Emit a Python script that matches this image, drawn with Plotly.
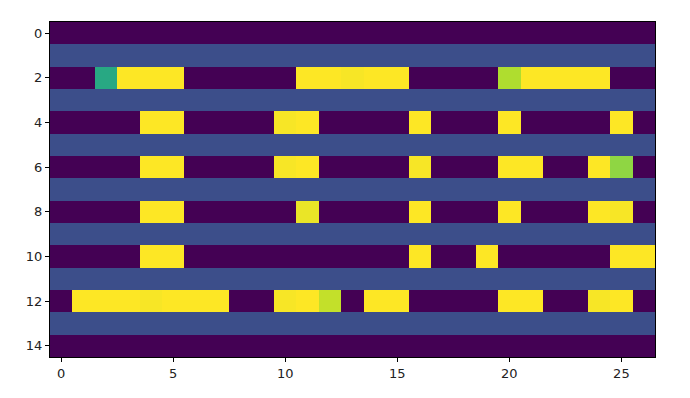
import plotly.graph_objects as go

x_cols = list(range(27))
y_rows = list(range(15))
x_ticks = [0, 5, 10, 15, 20, 25]
y_ticks = [0, 2, 4, 6, 8, 10, 12, 14]

B = 0.24  # blue separator rows
row0 = [0]*27
row2 = [0,0,0.6,1,1,1,0,0,0,0,0,1,1,0.99,1,1,0,0,0,0,0.88,1,1,1,1,0,0]
row4 = [0,0,0,0,1,1,0,0,0,0,0.99,1,0,0,0,0,1,0,0,0,1,0,0,0,0,1,0]
row6 = [0,0,0,0,1,1,0,0,0,0,0.99,1,0,0,0,0,0.99,0,0,0,1,1,0,0,1,0.83,0]
row8 = [0,0,0,0,1,1,0,0,0,0,0,0.97,0,0,0,0,1,0,0,0,1,0,0,0,1,0.99,0]
row10 = [0,0,0,0,1,1,0,0,0,0,0,0,0,0,0,0,1,0,0,1,0,0,0,0,0,1,1]
row12 = [0,1,1,1,0.99,1,1,1,0,0,0.99,1,0.91,0,1,1,0,0,0,0,1,1,0,0,0.99,1,0]
row14 = [0]*27
sep = [B]*27

values = [row0, sep, row2, sep, row4, sep, row6, sep, row8, sep, row10, sep, row12, sep, row14]

fig = go.Figure(go.Heatmap(
    z=values, x=x_cols, y=y_rows,
    colorscale="Viridis", zmin=0, zmax=1, showscale=False,
    hoverinfo="skip",
))

axis_common = dict(
    showline=True, mirror=True, linecolor="black", linewidth=1,
    ticks="outside", ticklen=4, tickcolor="black", tickwidth=1,
    showgrid=False, zeroline=False,
    tickfont=dict(family="DejaVu Sans", size=13, color="#222"),
)
fig.update_xaxes(range=[-0.5, 26.5], tickvals=x_ticks, **axis_common)
fig.update_yaxes(range=[14.5, -0.5], tickvals=y_ticks, **axis_common)

fig.update_layout(
    width=690, height=398,
    margin=dict(l=42, r=43, t=14, b=49),
    paper_bgcolor="white", plot_bgcolor="white",
)
fig.write_html("out.html")
